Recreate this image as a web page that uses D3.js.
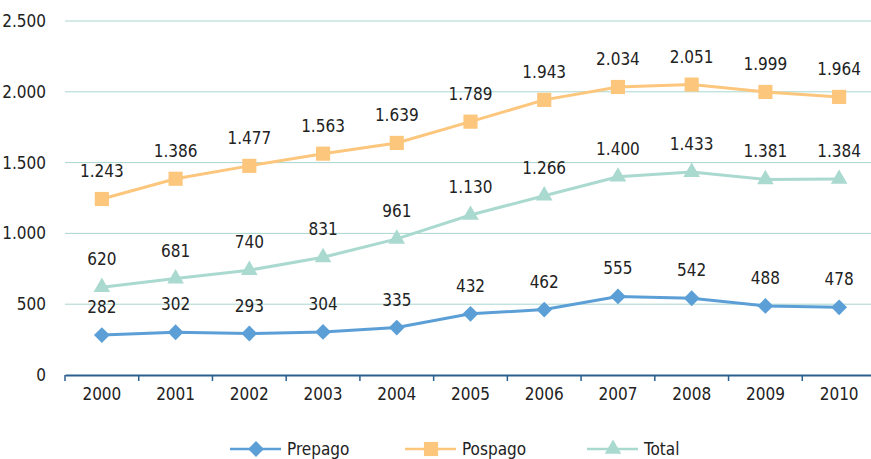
<!DOCTYPE html>
<html><head><meta charset="utf-8">
<script src="https://cdn.jsdelivr.net/npm/d3@7"></script>
<style>body{margin:0;background:#fff}svg{display:block}text{font-family:"Liberation Sans Narrow","DejaVu Sans Condensed",sans-serif;fill:#222}</style>
</head><body><svg id="c" width="871" height="459"></svg>
<script>
const years = ["2000","2001","2002","2003","2004","2005","2006","2007","2008","2009","2010"];
const prepago = [282,302,293,304,335,432,462,555,542,488,478];
const pospago = [1243,1386,1477,1563,1639,1789,1943,2034,2051,1999,1964];
const total = [620,681,740,831,961,1130,1266,1400,1433,1381,1384];
const yTicks = [0,500,1000,1500,2000,2500];
const seriesNames = ["Prepago","Pospago","Total"];
const colors = ["#5b9fd6","#fcc67d","#aad9d0"];
const symbols = [d3.symbolSquare, d3.symbolSquare, d3.symbolTriangle];
const rotations = [45, 0, 0];
const sizes = [125, 200, 120];

const svg = d3.select("#c");
const x = d3.scaleBand().domain(years).range([65, 876]);
const y = d3.scaleLinear().domain([0,2500]).range([375, 21]);
const fmt = v => d3.format(",")(v).replace(/,/g,".");

svg.append("g").selectAll("line").data(yTicks.filter(t=>t>0)).join("line")
  .attr("x1",65).attr("x2",871).attr("y1",d=>y(d)).attr("y2",d=>y(d))
  .attr("stroke","#a9d6cf").attr("stroke-width",1);
svg.append("g").selectAll("text").data(yTicks).join("text")
  .attr("x",46).attr("y",d=>y(d)).attr("dy","0.35em").attr("text-anchor","end")
  .attr("font-size",17).text(fmt);
const xa = svg.append("g").attr("transform","translate(0,375)")
  .call(d3.axisBottom(x).tickSize(0).tickPadding(13));
xa.select(".domain").attr("stroke","#2b5f8e").attr("stroke-width",2);
xa.selectAll("text").attr("font-size",17).attr("fill","#222").attr("font-family",null);
xa.selectAll(".tickb").data(d3.range(years.length+1)).join("line")
  .attr("x1",i=>65+i*x.step()).attr("x2",i=>65+i*x.step()).attr("y1",0).attr("y2",6)
  .attr("stroke","#2b5f8e").attr("stroke-width",1.5);

const data = [prepago, pospago, total];
const cx = i => x(years[i])+x.bandwidth()/2;
const line = d3.line().x((d,i)=>cx(i)).y(d=>y(d));
data.forEach((s,k)=>{
  const g = svg.append("g");
  g.append("path").datum(s).attr("d",line).attr("fill","none").attr("stroke",colors[k]).attr("stroke-width",3);
  g.selectAll("path.m").data(s).join("path").attr("class","m")
    .attr("transform",(d,i)=>`translate(${cx(i)},${y(d)}) rotate(${rotations[k]})`)
    .attr("d",d3.symbol(symbols[k], sizes[k])).attr("fill",colors[k]);
  g.selectAll("text").data(s).join("text")
    .attr("x",(d,i)=>cx(i)).attr("y",d=>y(d)-22)
    .attr("text-anchor","middle").attr("font-size",17).text(fmt);
});

const lx = [230, 405, 587];
seriesNames.forEach((n,k)=>{
  const g = svg.append("g").attr("transform",`translate(${lx[k]},449)`);
  g.append("line").attr("x1",0).attr("x2",51).attr("stroke",colors[k]).attr("stroke-width",2.5);
  g.append("path").attr("transform",`translate(26,0) rotate(${rotations[k]})`).attr("d",d3.symbol(symbols[k],sizes[k])).attr("fill",colors[k]);
  g.append("text").attr("x",57).attr("dy","0.35em").attr("font-size",17).text(n);
});
</script></body></html>
